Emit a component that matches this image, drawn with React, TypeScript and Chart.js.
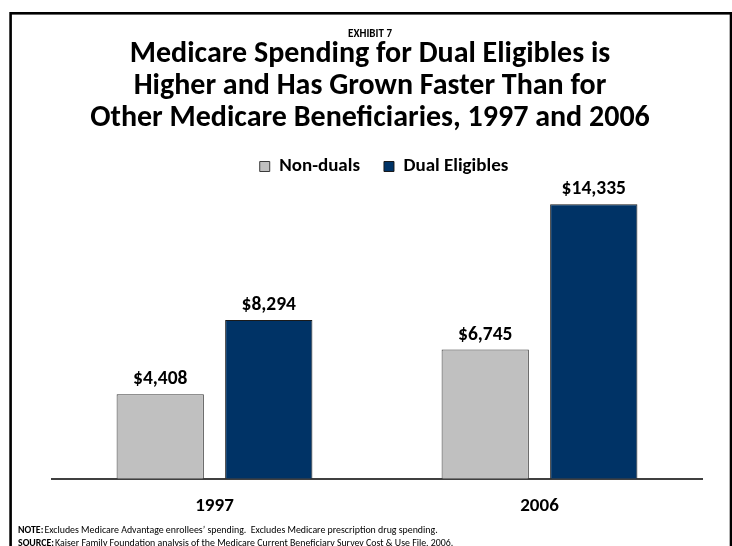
import React, { useEffect, useRef } from "react";
import { Chart, registerables } from "chart.js";

Chart.register(...registerables);

const FONT = "Carlito, Calibri, Lato, sans-serif";

const categories = ["1997", "2006"];
const nonDuals = [4408, 6745];
const dualEligibles = [8294, 14335];
const seriesNames = ["Non-duals", "Dual Eligibles"];

const exhibitLabel = "EXHIBIT 7";
const titleLines = [
  "Medicare Spending for Dual Eligibles is",
  "Higher and Has Grown Faster Than for",
  "Other Medicare Beneficiaries, 1997 and 2006",
];
const noteText = "Excludes Medicare Advantage enrollees\u2019 spending.  Excludes Medicare prescription drug spending.";
const sourceText = "Kaiser Family Foundation analysis of the Medicare Current Beneficiary Survey Cost & Use File, 2006.";

const fmtDollar = (v: number) => "$" + v.toLocaleString("en-US");

// Frame, heading and footnotes drawn around the plot.
const decorations = {
  id: "decorations",
  afterDraw(chart: Chart) {
    const { ctx } = chart;
    ctx.save();
    ctx.strokeStyle = "#000";
    ctx.lineWidth = 2.6;
    ctx.strokeRect(10.6, 13.3, 720.4, 600);

    ctx.fillStyle = "#000";
    ctx.textAlign = "center";
    ctx.textBaseline = "alphabetic";
    ctx.font = `bold 11px ${FONT}`;
    ctx.fillText(exhibitLabel, 370, 37);

    ctx.font = `bold 30px ${FONT}`;
    titleLines.forEach((line, i) => ctx.fillText(line, 370, 62 + i * 32));

    ctx.textAlign = "left";
    const foot = (label: string, text: string, y: number) => {
      ctx.font = `bold 9.9px ${FONT}`;
      ctx.fillText(label, 18, y);
      const w = ctx.measureText(label).width;
      ctx.font = `9.9px ${FONT}`;
      ctx.fillText(text, 18 + w + 1, y);
    };
    foot("NOTE:", noteText, 532.5);
    foot("SOURCE:", sourceText, 545.5);
    ctx.restore();
  },
};

// Value labels above each bar.
const valueLabels = {
  id: "valueLabels",
  afterDatasetsDraw(chart: Chart) {
    const { ctx } = chart;
    ctx.save();
    ctx.fillStyle = "#000";
    ctx.font = `bold 19.5px ${FONT}`;
    ctx.textAlign = "center";
    ctx.textBaseline = "alphabetic";
    chart.data.datasets.forEach((ds, di) => {
      const meta = chart.getDatasetMeta(di);
      meta.data.forEach((bar: any, i) => {
        ctx.fillText(fmtDollar(ds.data[i] as number), bar.x, bar.y - 10);
      });
    });
    ctx.restore();
  },
};

export default function App() {
  const canvasRef = useRef<HTMLCanvasElement>(null);

  useEffect(() => {
    const canvas = canvasRef.current;
    if (!canvas) return;
    const chart = new Chart(canvas, {
      type: "bar",
      data: {
        labels: categories,
        datasets: [
          {
            label: seriesNames[0],
            data: nonDuals,
            backgroundColor: "#C0C0C0",
            borderColor: "#3a3a3a",
            borderWidth: 1,
          },
          {
            label: seriesNames[1],
            data: dualEligibles,
            backgroundColor: "#003366",
            borderColor: "#1a1a1a",
            borderWidth: 1,
          },
        ],
      },
      options: {
        responsive: false,
        animation: false,
        devicePixelRatio: 1,
        datasets: {
          bar: { categoryPercentage: 0.668, barPercentage: 0.804 },
        },
        layout: { padding: { top: 133, left: 52, right: 16, bottom: 19.5 } },
        plugins: {
          title: { display: false },
          tooltip: { enabled: false },
          legend: {
            display: true,
            position: "top",
            labels: {
              boxWidth: 10,
              boxHeight: 10,
              padding: 24,
              color: "#000",
              font: { family: FONT, size: 19, weight: "bold" },
            },
          },
        },
        scales: {
          x: {
            grid: { display: false },
            border: { display: true, color: "#404040", width: 2 },
            ticks: {
              color: "#000",
              padding: 8.5,
              font: { family: FONT, size: 19, weight: "bold" },
            },
          },
          // value axis is not shown; it only keeps a blank strip on the right
          y: {
            display: true,
            position: "right",
            min: 0,
            max: 15290,
            grid: { display: false },
            border: { display: false },
            ticks: { display: false },
            afterFit(scale: any) {
              scale.width = 14;
            },
          },
        },
      },
      plugins: [valueLabels, decorations],
    });
    return () => chart.destroy();
  }, []);

  return (
    <div style={{ position: "fixed", left: 0, top: 0, width: 732, height: 546, background: "#fff" }}>
      <canvas ref={canvasRef} width={732} height={546} />
    </div>
  );
}
